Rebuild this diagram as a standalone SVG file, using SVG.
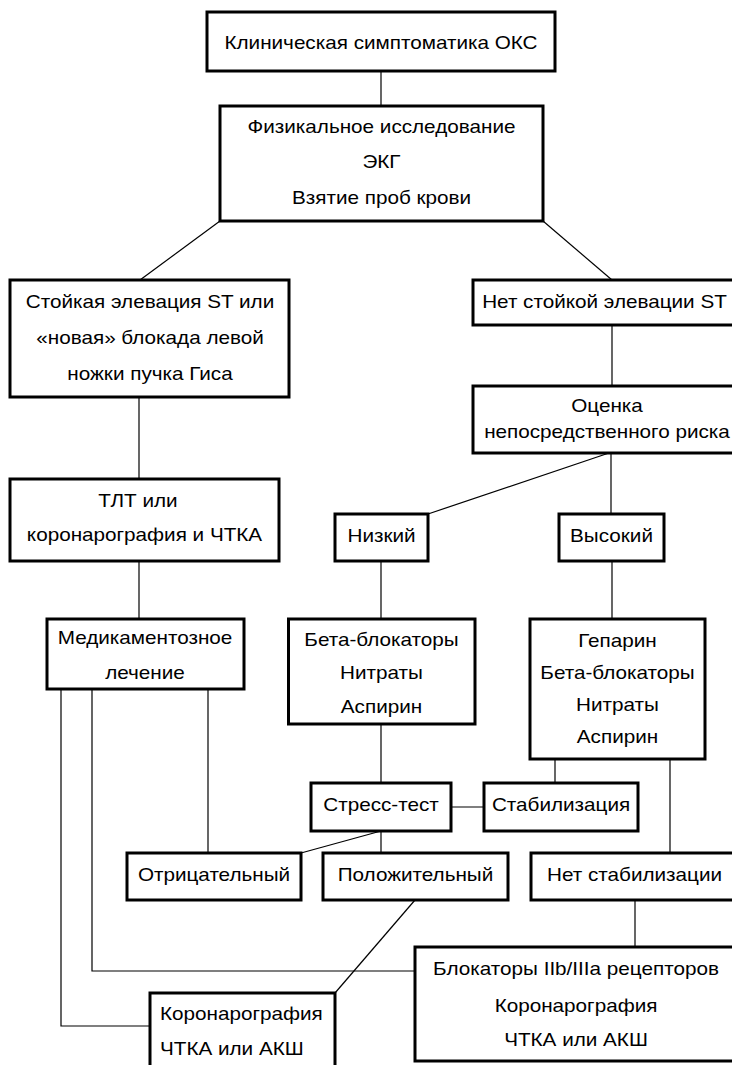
<svg xmlns="http://www.w3.org/2000/svg" width="732" height="1065" viewBox="0 0 732 1065">
<style>
.box{fill:#fff;stroke:#000;stroke-width:3}
.c{fill:none;stroke:#000;stroke-width:1.2}
text{font-family:"Liberation Sans",Arial,sans-serif;font-size:18px;fill:#000;text-anchor:middle}
.l{text-anchor:start}
</style>
<rect width="732" height="1065" fill="#fff"/>
<g id="connectors">
<path class="c" d="M381,71V106"/>
<path class="c" d="M220,221L140,280"/>
<path class="c" d="M543,221L612,280"/>
<path class="c" d="M612,325V386"/>
<path class="c" d="M139,397V479"/>
<path class="c" d="M609,453L428,514"/>
<path class="c" d="M611,453V514"/>
<path class="c" d="M139,561V619"/>
<path class="c" d="M381,561V619"/>
<path class="c" d="M612,561V619"/>
<path class="c" d="M381,724V783"/>
<path class="c" d="M555,759V783"/>
<path class="c" d="M451,807H484"/>
<path class="c" d="M670,759V853"/>
<path class="c" d="M381,831L301,853"/>
<path class="c" d="M381,831V853"/>
<path class="c" d="M208,689V853"/>
<path class="c" d="M635,900V947"/>
<path class="c" d="M92,689V971H415"/>
<path class="c" d="M61,689V1026H150"/>
<path class="c" d="M415,900L335,993"/>
</g>
<g id="n1"><rect class="box" x="207" y="12" width="348" height="59"/><text transform="translate(381,49) scale(1.15,1)">Клиническая симптоматика ОКС</text></g>
<g id="n2"><rect class="box" x="220" y="106" width="323" height="115"/><text transform="translate(381.5,133) scale(1.15,1)">Физикальное исследование</text><text transform="translate(381.5,168) scale(1.15,1)">ЭКГ</text><text transform="translate(381.5,204) scale(1.15,1)">Взятие проб крови</text></g>
<g id="n3"><rect class="box" x="10" y="280" width="279" height="117"/><text transform="translate(150,308) scale(1.15,1)">Стойкая элевация ST или</text><text transform="translate(150,344) scale(1.15,1)">«новая» блокада левой</text><text transform="translate(150,380) scale(1.15,1)">ножки пучка Гиса</text></g>
<g id="n4"><rect class="box" x="473" y="280" width="264" height="45"/><text transform="translate(604.5,308) scale(1.15,1)">Нет стойкой элевации ST</text></g>
<g id="n5"><rect class="box" x="473" y="386" width="268" height="67"/><text transform="translate(607,412) scale(1.15,1)">Оценка</text><text transform="translate(607,438) scale(1.15,1)">непосредственного риска</text></g>
<g id="n6"><rect class="box" x="10" y="479" width="269" height="82"/><text transform="translate(138,507) scale(1.15,1)">ТЛТ или</text><text transform="translate(144.5,541) scale(1.15,1)">коронарография и ЧТКА</text></g>
<g id="n7"><rect class="box" x="335" y="514" width="93" height="47"/><text transform="translate(381.5,542) scale(1.15,1)">Низкий</text></g>
<g id="n8"><rect class="box" x="559" y="514" width="105" height="47"/><text transform="translate(611.5,542) scale(1.15,1)">Высокий</text></g>
<g id="n9"><rect class="box" x="47" y="619" width="197" height="70"/><text transform="translate(145,644) scale(1.15,1)">Медикаментозное</text><text transform="translate(145,679) scale(1.15,1)">лечение</text></g>
<g id="n10"><rect class="box" x="288.5" y="619" width="186.5" height="105"/><text transform="translate(381.5,646) scale(1.15,1)">Бета-блокаторы</text><text transform="translate(381.5,679) scale(1.15,1)">Нитраты</text><text transform="translate(381.5,713) scale(1.15,1)">Аспирин</text></g>
<g id="n11"><rect class="box" x="530" y="619" width="175" height="140"/><text transform="translate(617.5,647) scale(1.15,1)">Гепарин</text><text transform="translate(617.5,679) scale(1.15,1)">Бета-блокаторы</text><text transform="translate(617.5,711) scale(1.15,1)">Нитраты</text><text transform="translate(617.5,743) scale(1.15,1)">Аспирин</text></g>
<g id="n12"><rect class="box" x="311" y="783" width="140" height="48"/><text transform="translate(381,811) scale(1.15,1)">Стресс-тест</text></g>
<g id="n13"><rect class="box" x="484" y="783" width="154" height="48"/><text transform="translate(561,811) scale(1.15,1)">Стабилизация</text></g>
<g id="n14"><rect class="box" x="127" y="853" width="174" height="47"/><text transform="translate(214,881) scale(1.15,1)">Отрицательный</text></g>
<g id="n15"><rect class="box" x="323" y="853" width="185" height="47"/><text transform="translate(415.5,881) scale(1.15,1)">Положительный</text></g>
<g id="n16"><rect class="box" x="531" y="853" width="207" height="47"/><text transform="translate(634.5,881) scale(1.15,1)">Нет стабилизации</text></g>
<g id="n17"><rect class="box" x="415" y="947" width="323" height="114"/><text transform="translate(576,975) scale(1.15,1)">Блокаторы IIb/IIIa рецепторов</text><text transform="translate(576,1012) scale(1.15,1)">Коронарография</text><text transform="translate(576,1046) scale(1.15,1)">ЧТКА или АКШ</text></g>
<g id="n18"><rect class="box" x="150" y="993" width="185" height="80"/><text class="l" transform="translate(160,1020) scale(1.15,1)">Коронарография</text><text class="l" transform="translate(160,1055) scale(1.15,1)">ЧТКА или АКШ</text></g>
</svg>
